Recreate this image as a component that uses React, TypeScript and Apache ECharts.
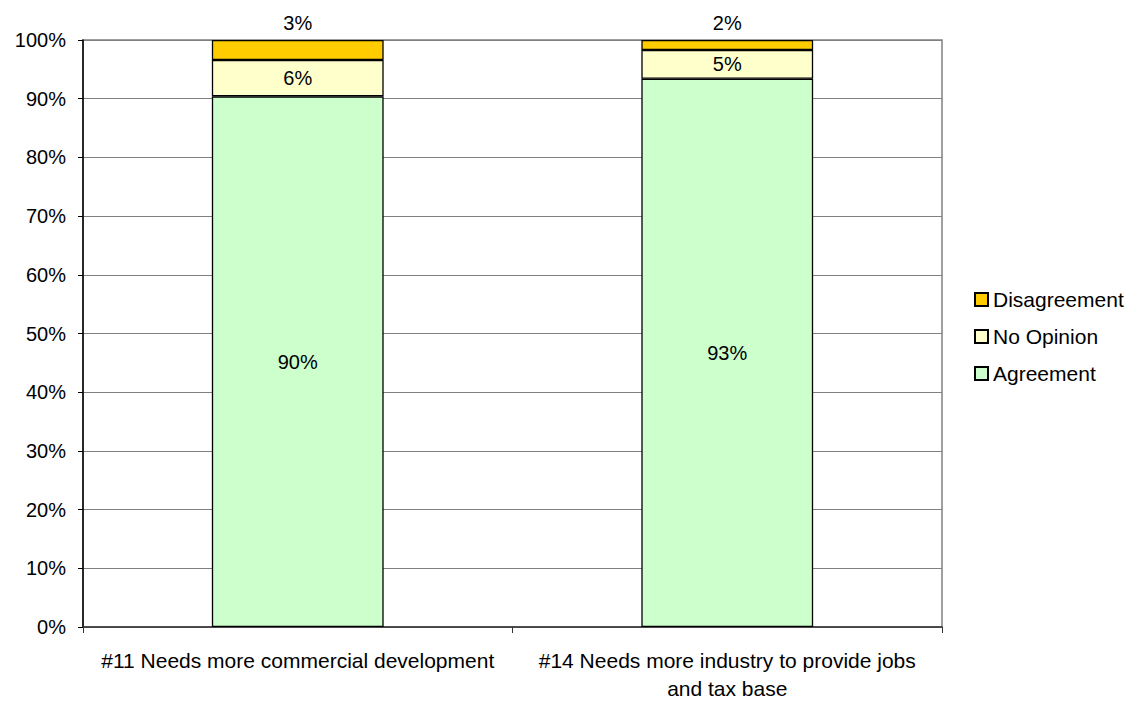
import React, { useEffect, useRef } from "react";
import * as echarts from "echarts";

const categories = [
  "#11 Needs more commercial development",
  "#14 Needs more industry to provide jobs\nand tax base",
];
const agreement = [90.4, 93.4];
const noOpinion = [6.2, 4.9];
const disagreement = [3.4, 1.7];
const yTicks = [0, 10, 20, 30, 40, 50, 60, 70, 80, 90, 100];

const FONT = "'Liberation Sans', Arial, sans-serif";

export default function App() {
  const ref = useRef<HTMLDivElement>(null);
  useEffect(() => {
    if (!ref.current) return;
    const chart = echarts.init(ref.current, null, { renderer: "svg" });
    const pct = (p: any) => Math.round(p.value) + "%";
    const base = {
      type: "bar",
      stack: "total",
      barWidth: "40%",
      itemStyle: { borderColor: "#000", borderWidth: 1.3 },
    };
    const lbl = { fontSize: 20, color: "#000", fontFamily: FONT };
    chart.setOption({
      animation: false,
      textStyle: { fontFamily: FONT },
      grid: {
        left: 83,
        right: 195,
        top: 40,
        bottom: 72,
        show: true,
        borderColor: "#808080",
        borderWidth: 1.5,
        backgroundColor: "transparent",
      },
      legend: {
        orient: "vertical",
        left: 969,
        top: 284,
        icon: "rect",
        itemWidth: 13,
        itemHeight: 13,
        itemGap: 16,
        textStyle: { fontSize: 21, color: "#000", fontFamily: FONT },
        data: ["Disagreement", "No Opinion", "Agreement"],
      },
      xAxis: {
        type: "category",
        data: categories,
        axisLine: { lineStyle: { color: "#333", width: 1.5 } },
        axisTick: { show: true, length: 6, lineStyle: { color: "#333" } },
        axisLabel: {
          fontSize: 21,
          color: "#000",
          margin: 19,
          lineHeight: 28,
          fontFamily: FONT,
          interval: 0,
        },
      },
      yAxis: {
        type: "value",
        min: 0,
        max: 100,
        interval: 10,
        axisLine: { show: true, lineStyle: { color: "#000", width: 1.5 } },
        axisTick: { show: true, length: 5, lineStyle: { color: "#000" } },
        axisLabel: {
          fontSize: 20,
          color: "#000",
          margin: 17,
          fontFamily: FONT,
          formatter: (v: number) => (yTicks.includes(v) ? v + "%" : ""),
        },
        splitLine: { lineStyle: { color: "#808080", width: 1 } },
      },
      series: [
        {
          ...base,
          name: "Agreement",
          data: agreement,
          itemStyle: { ...base.itemStyle, color: "#CCFFCC" },
          label: { show: true, position: "inside", formatter: pct, ...lbl },
        },
        {
          ...base,
          name: "No Opinion",
          data: noOpinion,
          itemStyle: { ...base.itemStyle, color: "#FFFFCC" },
          label: { show: true, position: "inside", formatter: pct, ...lbl },
        },
        {
          ...base,
          name: "Disagreement",
          data: disagreement,
          itemStyle: { ...base.itemStyle, color: "#FFCC00" },
          label: { show: true, position: "top", distance: 7, formatter: pct, ...lbl },
        },
      ],
    });
    return () => chart.dispose();
  }, []);
  return <div ref={ref} style={{ width: 1137, height: 702, position: "absolute", left: 0, top: 0 }} />;
}
